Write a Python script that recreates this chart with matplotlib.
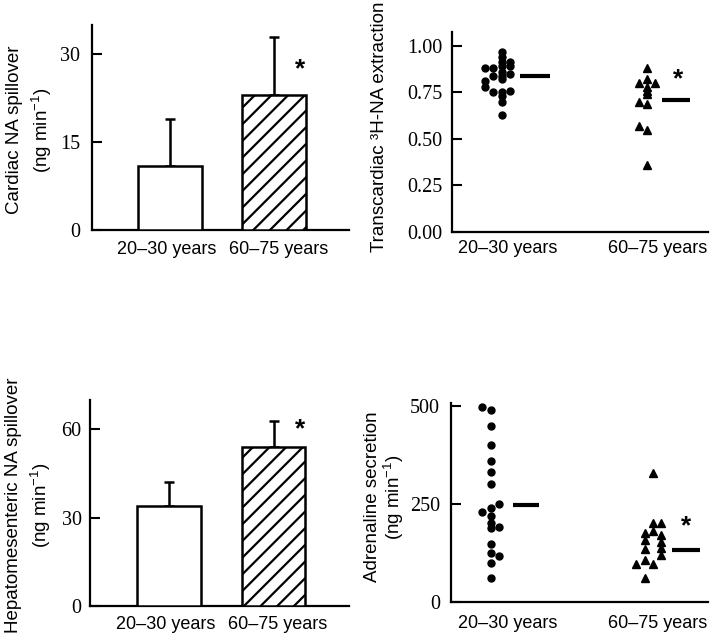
import matplotlib
matplotlib.use("Agg")
import matplotlib.pyplot as plt

# ---------------- data ----------------
groups = ["20\u201330 years", "60\u201375 years"]

# Panel A: cardiac NA spillover (ng/min)
cardiac_mean = [11, 23]
cardiac_err = [8, 10]

# Panel C: hepatomesenteric NA spillover (ng/min)
hepato_mean = [34, 54]
hepato_err = [8, 9]

# Panel B: transcardiac 3H-NA extraction
extr_young = [0.88, 0.81, 0.78, 0.88, 0.84, 0.755, 0.97, 0.94, 0.915, 0.89, 0.86,
              0.84, 0.82, 0.755, 0.73, 0.70, 0.63, 0.915, 0.89, 0.85, 0.76]
extr_young_col = [-2, -2, -2, -1, -1, -1, 0, 0, 0, 0, 0, 0, 0, 0, 0, 0, 0, 1, 1, 1, 1]
extr_old = [0.88, 0.80, 0.82, 0.80, 0.78, 0.76, 0.74, 0.70, 0.69, 0.57, 0.55, 0.36]
extr_old_col = [0, -1, 0, 1, 0, 0, 0, -1, 0, -1, 0, 0]
extr_means = [0.84, 0.71]

# Panel D: adrenaline secretion (ng/min)
adr_young = [498, 490, 449, 400, 360, 330, 300, 250, 240, 230, 220, 200, 189, 190,
             149, 124, 117, 100, 62]
adr_young_col = [-1, 0, 0, 0, 0, 0, 0, 1, 0, -1, 0, 0, 0, 1, 0, 0, 1, 0, 0]
adr_old = [328, 200, 200, 176, 180, 159, 170, 153, 134, 137, 119, 97, 107, 97, 62]
adr_old_col = [1, 1, 2, 0, 1, 0, 2, 2, 0, 2, 2, -1, 0, 1, 0]
adr_means = [246, 132]

# ---------------- style ----------------
plt.rcParams["hatch.linewidth"] = 1.6
plt.rcParams["mathtext.fontset"] = "custom"
plt.rcParams["mathtext.rm"] = "Liberation Sans"
plt.rcParams["mathtext.it"] = "Liberation Sans:italic"
SANS = "Liberation Sans"
SERIF = "Liberation Serif"
W, H = 718, 643

fig = plt.figure(figsize=(W / 100, H / 100), dpi=100)


def add_ax(x0, x1, y0, y1):
    return fig.add_axes([x0 / W, 1 - y1 / H, (x1 - x0) / W, (y1 - y0) / H])


def style(ax, yticks, fmt, ypad, xpad):
    for s in ("top", "right"):
        ax.spines[s].set_visible(False)
    for s in ("left", "bottom"):
        ax.spines[s].set_linewidth(1.6)
    ax.set_yticks(yticks)
    ax.set_yticklabels([fmt.format(v) for v in yticks], fontfamily=SERIF, fontsize=14.5)
    ax.tick_params(axis="y", direction="in", length=7, width=1.5, pad=ypad)
    ax.tick_params(axis="x", length=0, pad=xpad)
    for lab in ax.get_xticklabels():
        lab.set_fontfamily(SANS)
        lab.set_fontsize(13)


def bar_panel(ax, means, errs, ylim, yticks, star_y, ypad, xpad):
    x = [0, 1]
    ax.bar(x, means, width=0.61, color="white", edgecolor="black",
           linewidth=1.8, hatch=["", "//"], zorder=3)
    ax.errorbar(x, means, yerr=[[0, 0], errs], fmt="none", ecolor="black",
                elinewidth=1.8, capsize=3.5, capthick=1.8, zorder=2)
    ax.set_xlim(-0.75, 1.72)
    ax.set_ylim(*ylim)
    ax.set_xticks([-0.03, 1.04])
    ax.set_xticklabels(groups)
    style(ax, yticks, "{:d}", ypad, xpad)
    ax.text(1.25, star_y, "*", ha="center", va="center", fontsize=19,
            fontweight="bold", fontfamily=SANS)


def dot_panel(ax, young, ycol, yc0, old, ocol, oc0, means, mline, marker_old,
              ylim, yticks, fmt, star, ypad, xpad):
    sp = 0.055
    xs = [yc0 + c * sp for c in ycol]
    ax.plot(xs, young, "o", color="black", markersize=5, linestyle="none",
            clip_on=False)
    xs = [1 + oc0 + c * sp for c in ocol]
    ax.plot(xs, old, marker_old, color="black", markersize=6, linestyle="none",
            clip_on=False)
    for i, (a, b) in enumerate(mline):
        ax.plot([i + a, i + b], [means[i], means[i]], color="black", linewidth=3,
                solid_capstyle="butt")
    ax.set_xlim(-0.373, 1.333)
    ax.set_ylim(*ylim)
    ax.set_xticks([0, 1])
    ax.set_xticklabels(groups)
    style(ax, yticks, fmt, ypad, xpad)
    ax.text(star[0], star[1], "*", ha="center", va="center", fontsize=19,
            fontweight="bold", fontfamily=SANS)


# Panel A
axA = add_ax(92, 349, 25, 230)
bar_panel(axA, cardiac_mean, cardiac_err, (0, 35), [0, 15, 30], 27.5, 8.5, 8)
fig.text(30 / W, 1 - 130 / H, "Cardiac NA spillover\n(ng min$^{-1}$)", rotation=90,
         ha="center", va="center", fontfamily=SANS, fontsize=13.5, linespacing=1.4,
         multialignment="center")

# Panel C
axC = add_ax(90, 349, 400, 606)
bar_panel(axC, hepato_mean, hepato_err, (0, 70), [0, 30, 60], 60.0, 6, 7)
fig.text(29 / W, 1 - 505 / H, "Hepatomesenteric NA spillover\n(ng min$^{-1}$)",
         rotation=90, ha="center", va="center", fontfamily=SANS, fontsize=13.5,
         linespacing=1.4, multialignment="center")

# Panel B
axB = add_ax(452, 708, 32, 232)
dot_panel(axB, extr_young, extr_young_col, -0.042, extr_old, extr_old_col, -0.075,
          extr_means, [(0.08, 0.28), (0.027, 0.213)], "^",
          (0, 1.075), [0, 0.25, 0.5, 0.75, 1.0], "{:.2f}", (1.133, 0.82), 7, 6)
fig.text(379 / W, 1 - 127 / H, "Transcardiac \u00b3H-NA extraction", rotation=90,
         ha="center", va="center", fontfamily=SANS, fontsize=13.5)

# Panel D
axD = add_ax(451, 708, 403, 602)
dot_panel(axD, adr_young, adr_young_col, -0.109, adr_old, adr_old_col, -0.087,
          adr_means, [(0.04, 0.213), (0.093, 0.28)], "^",
          (0, 507), [0, 250, 500], "{:d}", (1.187, 192), 8, 9)
fig.text(385 / W, 1 - 497 / H, "Adrenaline secretion\n(ng min$^{-1}$)", rotation=90,
         ha="center", va="center", fontfamily=SANS, fontsize=13.5, linespacing=1.1,
         multialignment="center")

fig.savefig("out.png", dpi=100)
